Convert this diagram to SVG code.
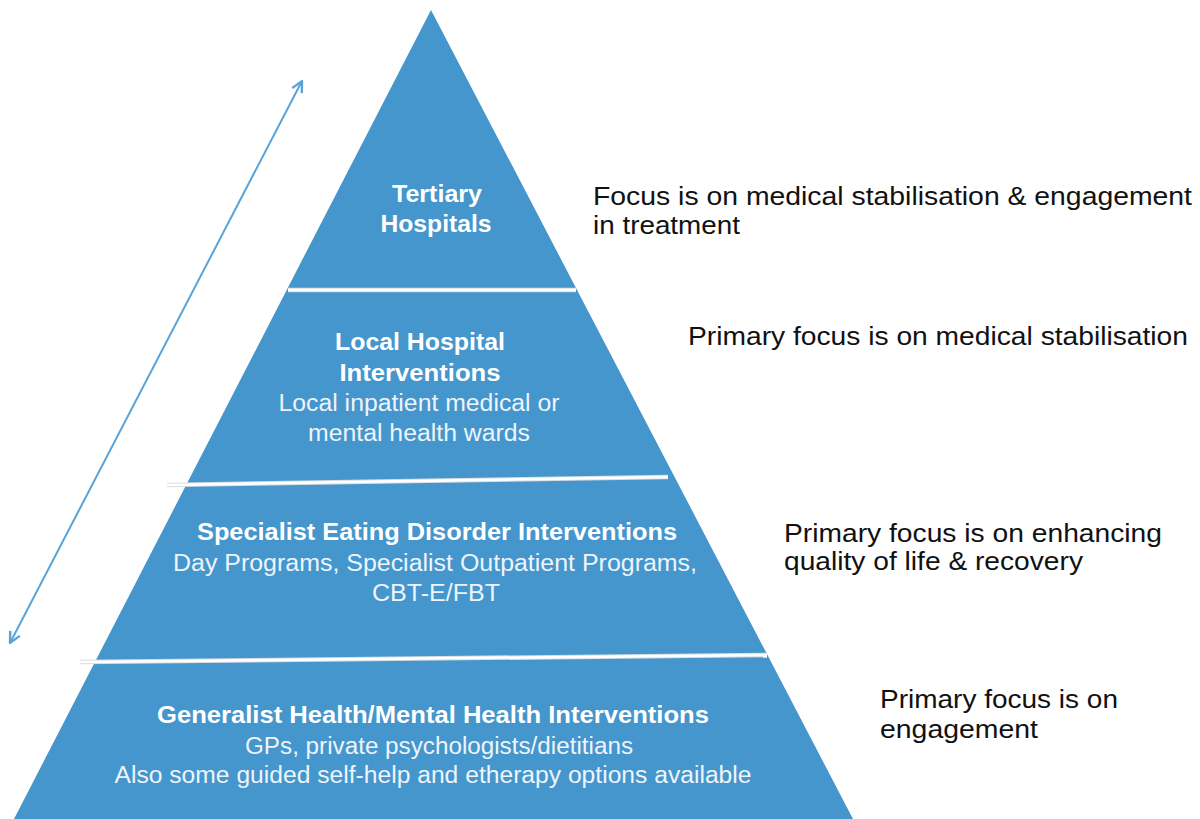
<svg xmlns="http://www.w3.org/2000/svg" width="1200" height="819" viewBox="0 0 1200 819">
<defs>
<style>
.b{font-family:"Liberation Sans",Arial,sans-serif;font-weight:bold;font-size:23px;fill:#ffffff;text-anchor:middle}
.r{font-family:"Liberation Sans",Arial,sans-serif;font-size:23px;fill:#eef4fa;text-anchor:middle}
.t{font-family:"Liberation Sans",Arial,sans-serif;font-size:26px;fill:#111111}
.sepU{stroke:#d8dde2;stroke-width:4.5;fill:none}
.sep{stroke:#ffffff;stroke-width:2.5;fill:none}
</style>
<marker id="ah" viewBox="0 0 12 12" refX="11" refY="6" markerWidth="13" markerHeight="13" markerUnits="userSpaceOnUse" orient="auto-start-reverse">
<path d="M1,1 L11,6 L1,11" fill="none" stroke="#5aa3d9" stroke-width="2.2"/>
</marker>
</defs>
<rect width="1200" height="819" fill="#ffffff"/>
<g id="pyramid">
<polygon points="431,10 853,819 14,819" fill="#4496cd"/>
</g>
<g id="connectors">
<line class="sepU" x1="288" y1="290" x2="576" y2="290"/>
<line class="sep" x1="288" y1="290" x2="576" y2="290"/>
<line class="sepU" x1="167" y1="485" x2="668" y2="477"/>
<line class="sep" x1="167" y1="485" x2="668" y2="477"/>
<line class="sepU" x1="80" y1="662" x2="767" y2="655"/>
<line class="sep" x1="80" y1="662" x2="767" y2="655"/>
<line x1="302" y1="81" x2="10" y2="643" stroke="#5aa3d9" stroke-width="2" marker-start="url(#ah)" marker-end="url(#ah)"/>
</g>
<g id="tertiary">
<text class="b" x="437" y="202" textLength="90" lengthAdjust="spacingAndGlyphs">Tertiary</text>
<text class="b" x="436" y="232" textLength="111" lengthAdjust="spacingAndGlyphs">Hospitals</text>
<text class="t" x="593" y="205" textLength="599" lengthAdjust="spacingAndGlyphs">Focus is on medical stabilisation &amp; engagement</text>
<text class="t" x="593" y="234" textLength="147" lengthAdjust="spacingAndGlyphs">in treatment</text>
</g>
<g id="local">
<text class="b" x="420" y="350" textLength="170" lengthAdjust="spacingAndGlyphs">Local Hospital</text>
<text class="b" x="420" y="381" textLength="161" lengthAdjust="spacingAndGlyphs">Interventions</text>
<text class="r" x="419" y="411" textLength="281" lengthAdjust="spacingAndGlyphs">Local inpatient medical or</text>
<text class="r" x="419" y="441" textLength="222" lengthAdjust="spacingAndGlyphs">mental health wards</text>
<text class="t" x="688" y="345" textLength="500" lengthAdjust="spacingAndGlyphs">Primary focus is on medical stabilisation</text>
</g>
<g id="specialist">
<text class="b" x="437" y="540" textLength="480" lengthAdjust="spacingAndGlyphs">Specialist Eating Disorder Interventions</text>
<text class="r" x="435" y="571" textLength="524" lengthAdjust="spacingAndGlyphs">Day Programs, Specialist Outpatient Programs,</text>
<text class="r" x="436" y="601" textLength="128" lengthAdjust="spacingAndGlyphs">CBT-E/FBT</text>
<text class="t" x="784" y="542" textLength="378" lengthAdjust="spacingAndGlyphs">Primary focus is on enhancing</text>
<text class="t" x="784" y="570" textLength="299" lengthAdjust="spacingAndGlyphs">quality of life &amp; recovery</text>
</g>
<g id="generalist">
<text class="b" x="433" y="723" textLength="552" lengthAdjust="spacingAndGlyphs">Generalist Health/Mental Health Interventions</text>
<text class="r" x="439" y="754" textLength="388" lengthAdjust="spacingAndGlyphs">GPs, private psychologists/dietitians</text>
<text class="r" x="433" y="783" textLength="637" lengthAdjust="spacingAndGlyphs">Also some guided self-help and etherapy options available</text>
<text class="t" x="880" y="708" textLength="238" lengthAdjust="spacingAndGlyphs">Primary focus is on</text>
<text class="t" x="880" y="738" textLength="158" lengthAdjust="spacingAndGlyphs">engagement</text>
</g>
</svg>
